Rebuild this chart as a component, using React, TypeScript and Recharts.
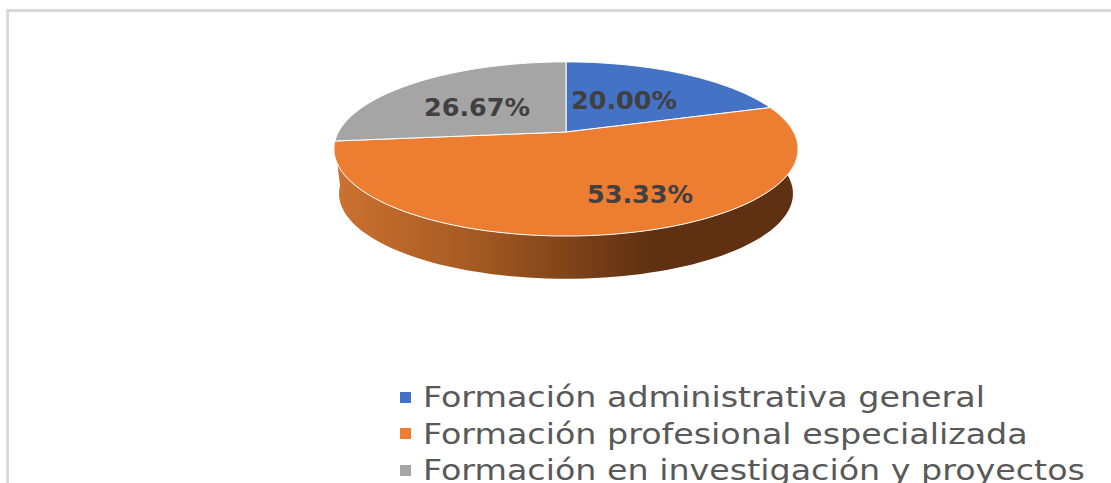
import { Legend, Pie, PieChart } from "recharts"

const categories = [
  "Formación administrativa general",
  "Formación profesional especializada",
  "Formación en investigación y proyectos",
]
const values = [20, 53.33, 26.67]
const colors = ["#4472c4", "#ed7d31", "#a5a5a5"]

const tableData = categories.map((name, i) => ({ name, value: values[i], fill: colors[i] }))

// the pie is drawn in perspective, so each angle goes through this projection
const TILT = 0.195
const SQUASH = 0.368
const WALL_DROP = 45
const WALL_SCALE = 0.978
const labelSpots = [
  { dx: 58, dy: -32 },
  { dx: 74, dy: 62 },
  { dx: -89, dy: -25 },
]

function project(cx: number, cy: number, r: number, theta: number) {
  const rad = (theta * Math.PI) / 180
  const w = 1 + TILT * Math.cos(rad)
  return {
    x: cx + (r * Math.sin(rad)) / w,
    y: cy - (r * SQUASH * Math.cos(rad)) / w,
  }
}

function rim(cx: number, cy: number, r: number, from: number, to: number) {
  const pts = []
  const steps = Math.ceil(Math.abs(to - from) / 2)
  for (let i = 0; i <= steps; i++) {
    const p = project(cx, cy, r, from + ((to - from) * i) / steps)
    pts.push(`${p.x.toFixed(1)} ${p.y.toFixed(1)}`)
  }
  return pts
}

function PerspectiveSlice(props: any) {
  const { cx, cy, outerRadius, startAngle, endAngle, fill } = props
  const from = 90 - startAngle
  const to = 90 - endAngle
  const top = rim(cx, cy, outerRadius, from, to)
  const showWall = from < 180 && to > 180
  const bottom = rim(cx, cy + WALL_DROP, outerRadius * WALL_SCALE, to, from)
  return (
    <g>
      {showWall && (
        <>
          <defs>
            <linearGradient id="wallShade" x1="0" y1="0" x2="1" y2="0">
              <stop offset="0" stopColor="#cc7230" />
              <stop offset="0.3" stopColor="#a55a22" />
              <stop offset="0.68" stopColor="#5f3011" />
              <stop offset="1" stopColor="#5f3011" />
            </linearGradient>
          </defs>
          <path d={`M${top.join(" L")} L${bottom.join(" L")} Z`} fill="url(#wallShade)" />
        </>
      )}
      <path
        d={`M${cx} ${cy} L${top.join(" L")} Z`}
        fill={fill}
        stroke="#ffffff"
        strokeWidth={1}
        strokeLinejoin="round"
      />
    </g>
  )
}

function SliceLabel(props: any) {
  const { cx, cy, index, value } = props
  const spot = labelSpots[index]
  return (
    <text
      x={cx + spot.dx}
      y={cy + spot.dy}
      textAnchor="middle"
      dominantBaseline="central"
      fill="#404040"
      fontFamily="DejaVu Sans"
      fontWeight="bold"
      fontSize={25.5}
    >
      {`${value.toFixed(2)}%`}
    </text>
  )
}

export default function App() {
  return (
    <div style={{ position: "absolute", left: 0, top: 0, width: 1111, height: 483, overflow: "hidden", background: "#fff" }}>
      <div
        style={{
          position: "absolute",
          left: 6,
          top: 9,
          width: 1105,
          height: 474,
          borderTop: "3px solid #d9d9d9",
          borderLeft: "3px solid #d9d9d9",
          boxSizing: "border-box",
        }}
      />
      <PieChart
        width={1111}
        height={483}
        margin={{ top: 0, right: 0, bottom: 0, left: 0 }}
        style={{ position: "absolute", left: 0, top: 0 }}
      >
        <Pie
          data={tableData}
          dataKey="value"
          nameKey="name"
          cx={566}
          cy={132}
          outerRadius={227.6}
          startAngle={90}
          endAngle={-270}
          stroke="none"
          shape={PerspectiveSlice}
          label={SliceLabel}
          labelLine={false}
          isAnimationActive={false}
        />
        <Legend
          layout="vertical"
          iconType="square"
          iconSize={11}
          itemSorter={null}
          wrapperStyle={{ position: "absolute", left: 400, top: 378, width: 711, bottom: "auto", fontFamily: "DejaVu Sans", fontSize: 28, lineHeight: "36.5px" }}
          formatter={(name: string) => (
            <span style={{ display: "inline-block", color: "#595959", marginLeft: 8, whiteSpace: "nowrap", transform: "translateY(2px) scaleX(1.19)", transformOrigin: "left center" }}>
              {name}
            </span>
          )}
        />
      </PieChart>
    </div>
  )
}
